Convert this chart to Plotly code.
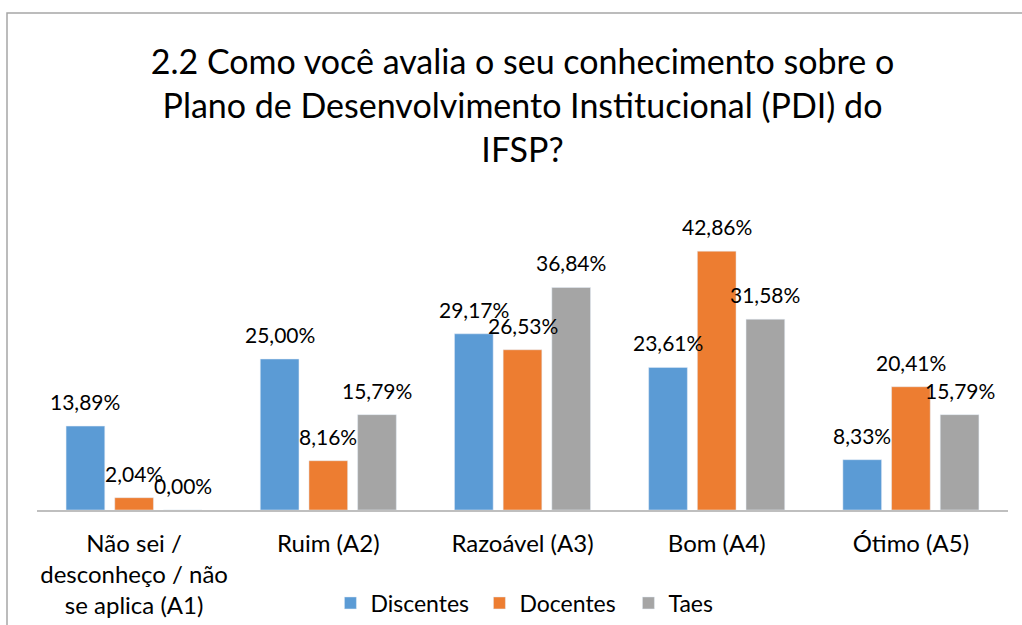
import plotly.graph_objects as go

categories = ["Não sei /<br>desconheço / não<br>se aplica (A1)", "Ruim (A2)", "Razoável (A3)", "Bom (A4)", "Ótimo (A5)"]
discentes = [13.89, 25.00, 29.17, 23.61, 8.33]
docentes = [2.04, 8.16, 26.53, 42.86, 20.41]
taes = [0.00, 15.79, 36.84, 31.58, 15.79]
series = [("Discentes", discentes, "#5B9BD5"), ("Docentes", docentes, "#ED7D31"), ("Taes", taes, "#A5A5A5")]

def fmt(v):
    return f"{v:.2f}".replace(".", ",") + "%"

FONT = "Lato"
W, H = 1022, 625
ML, MR, MT, MB = 37, 14, 208, 115
BARGAP, GROUPGAP = 0.248, 0.205
cat_w = (W - ML - MR) / len(categories)
slot = cat_w * (1 - BARGAP) / len(series)

fig = go.Figure()
annotations = []
for i, (name, vals, color) in enumerate(series):
    fig.add_trace(go.Bar(x=categories, y=vals, name=name, marker_color=color, cliponaxis=False))
    for c, v in zip(categories, vals):
        annotations.append(dict(x=c, y=v, xref="x", yref="y", text=fmt(v), showarrow=False,
                                xanchor="center", yanchor="bottom", xshift=(i - 1) * slot, yshift=10,
                                font=dict(size=21, color="#000000", family=FONT)))

fig.update_layout(
    width=W, height=H,
    paper_bgcolor="white", plot_bgcolor="white",
    margin=dict(l=ML, r=MR, t=MT, b=MB),
    barmode="group", bargap=BARGAP, bargroupgap=GROUPGAP,
    font=dict(family=FONT, color="#000000"),
    title=dict(text="2.2 Como você avalia o seu conhecimento sobre o<br>Plano de Desenvolvimento Institucional (PDI) do<br>IFSP?",
               x=0.5, xref="paper", xanchor="center", y=1 - 74 / H, yref="container", yanchor="top",
               font=dict(size=34, family=FONT, color="#000000")),
    legend=dict(orientation="h", x=0.542, xref="container", xanchor="center",
                y=1 - 603 / H, yref="container", yanchor="middle",
                font=dict(size=23, family=FONT), itemwidth=30, traceorder="normal",
                entrywidth=104, entrywidthmode="pixels"),
    xaxis=dict(showline=True, linecolor="#BFBFBF", linewidth=2, ticks="", showgrid=False,
               ticklabelstandoff=11, automargin=False,
               tickfont=dict(size=24, family=FONT, color="#000000")),
    yaxis=dict(range=[0, 50], visible=False, showgrid=False, automargin=False),
    annotations=annotations,
    shapes=[dict(type="rect", xref="paper", yref="paper", x0=(7 - ML) / (W - ML - MR), x1=1.2,
                 y0=-1.0, y1=(H - MB - 13) / (H - MT - MB), line=dict(color="#A6A6A6", width=1.5), layer="below")],
)
fig.write_html("out.html", post_script="document.body.style.margin='0';",
               config={"displayModeBar": False})
